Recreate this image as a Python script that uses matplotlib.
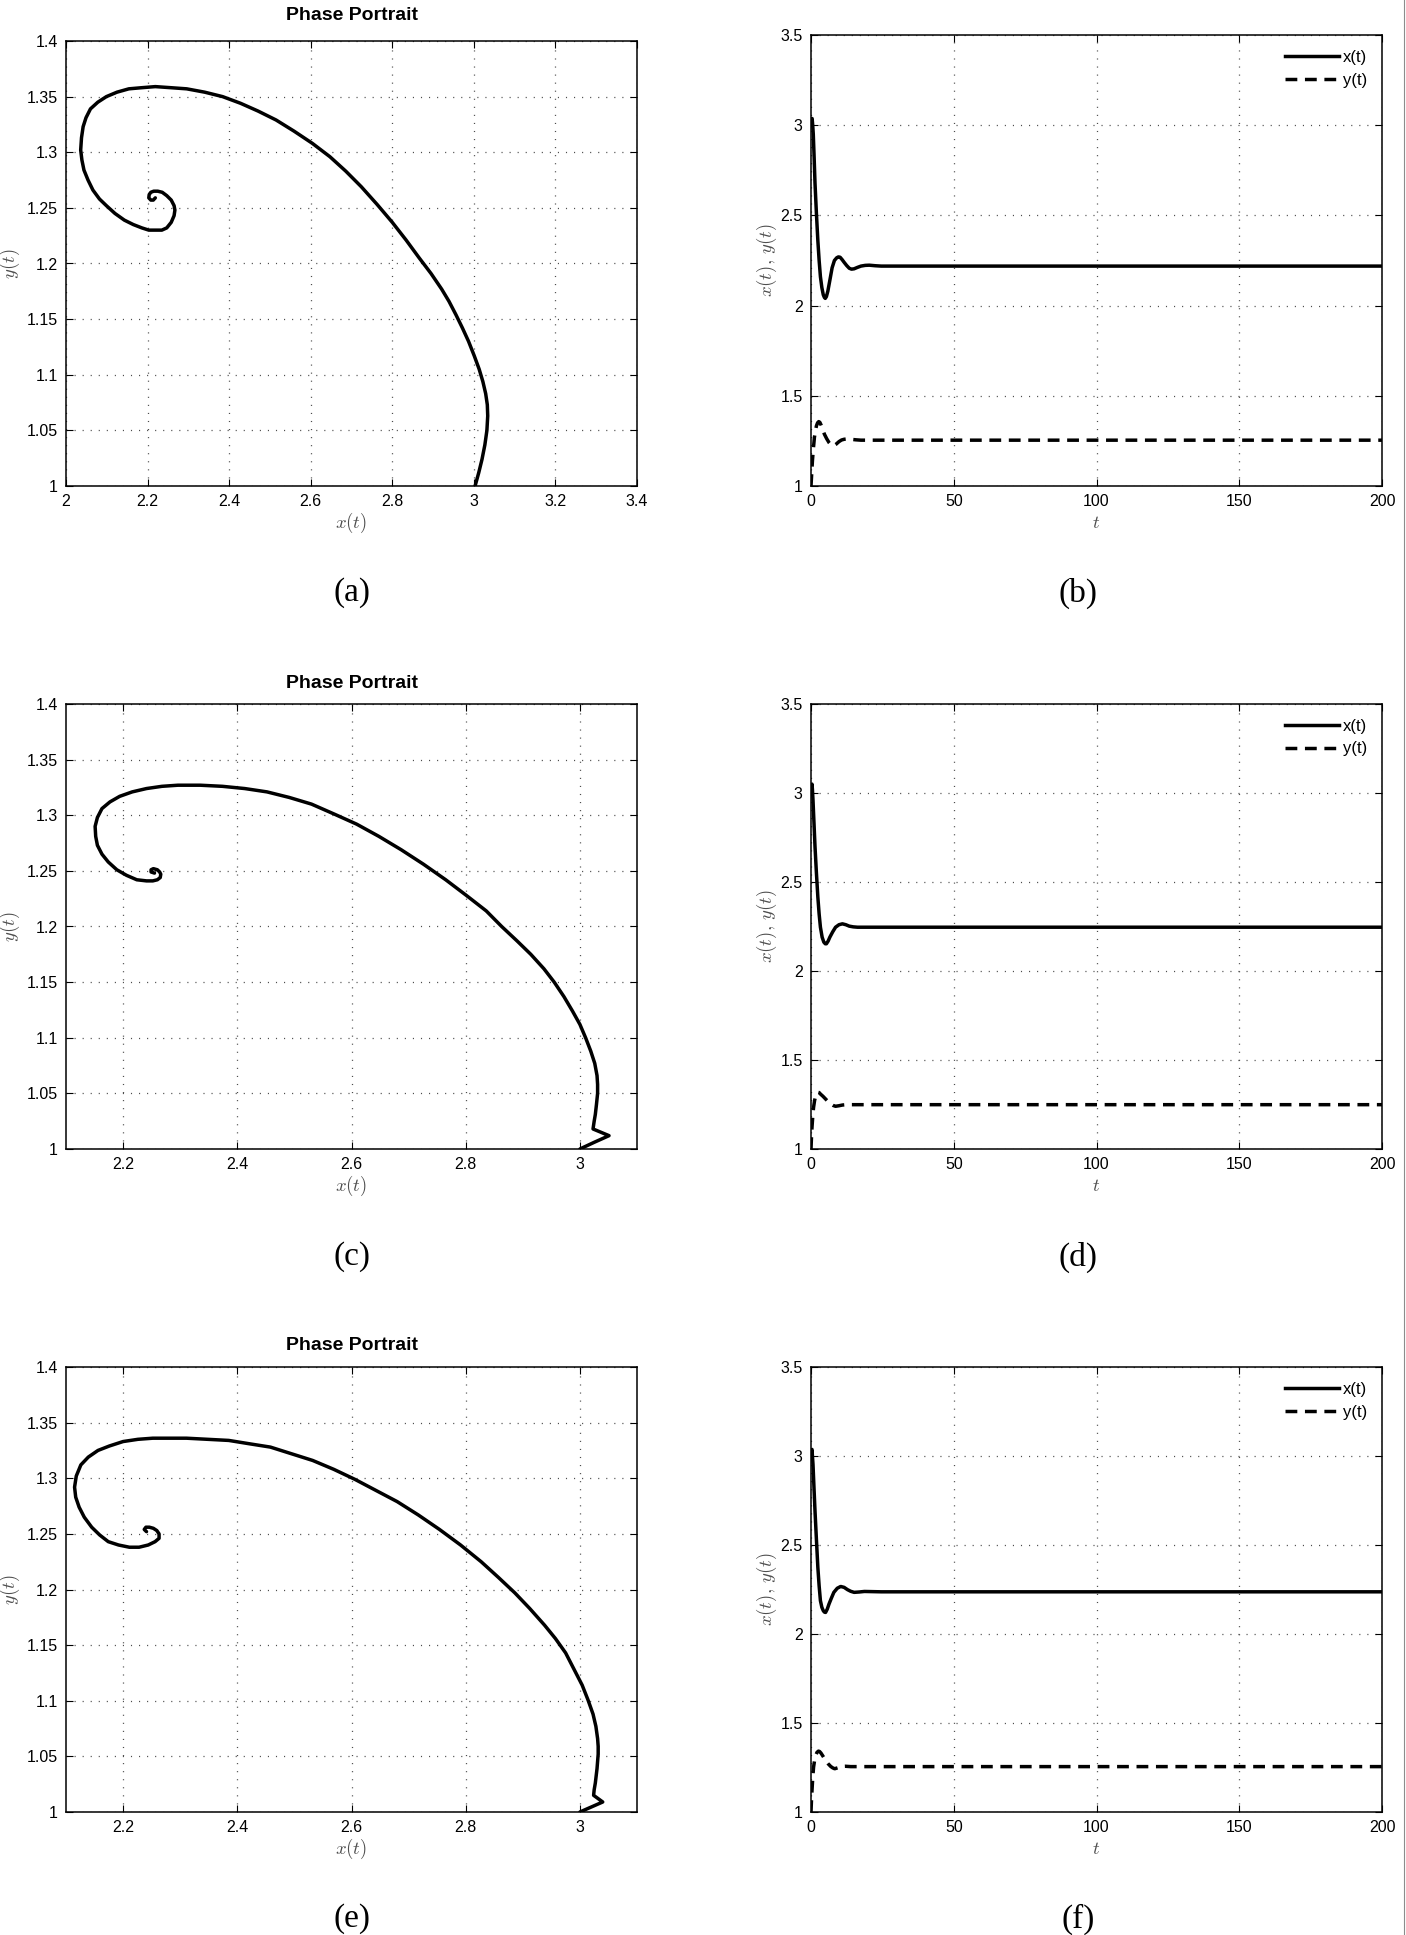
import matplotlib
matplotlib.use("Agg")
import matplotlib.pyplot as plt
from matplotlib.ticker import FormatStrFormatter
from matplotlib.lines import Line2D

# ---- portraits de phase : points ----
pa_x = [3.003, 3.012, 3.020, 3.027, 3.032, 3.034, 3.033, 3.029, 3.022, 3.013,
        3.001, 2.987, 2.972, 2.956, 2.939, 2.921, 2.895, 2.866, 2.834, 2.800,
        2.763, 2.724, 2.686, 2.647, 2.604, 2.559, 2.515, 2.471, 2.428, 2.384,
        2.340, 2.296, 2.258, 2.219, 2.185, 2.154, 2.125, 2.099, 2.078, 2.060,
        2.049, 2.042, 2.038, 2.036, 2.039, 2.044, 2.054, 2.066, 2.082, 2.099,
        2.120, 2.143, 2.165, 2.186, 2.203, 2.219, 2.235, 2.247, 2.258, 2.265,
        2.267, 2.265, 2.258, 2.247, 2.236, 2.225, 2.215, 2.208, 2.204, 2.203,
        2.208, 2.214, 2.219]
pa_y = [1.000, 1.012, 1.024, 1.037, 1.050, 1.063, 1.073, 1.083, 1.094, 1.105,
        1.117, 1.130, 1.142, 1.154, 1.166, 1.177, 1.191, 1.205, 1.221, 1.237,
        1.253, 1.269, 1.283, 1.296, 1.308, 1.319, 1.329, 1.337, 1.344, 1.350,
        1.354, 1.357, 1.358, 1.359, 1.358, 1.357, 1.354, 1.350, 1.345, 1.339,
        1.331, 1.323, 1.313, 1.302, 1.293, 1.284, 1.275, 1.266, 1.258, 1.252,
        1.245, 1.239, 1.235, 1.232, 1.230, 1.230, 1.230, 1.232, 1.237, 1.243,
        1.248, 1.252, 1.257, 1.261, 1.264, 1.265, 1.265, 1.264, 1.262, 1.259,
        1.257, 1.257, 1.259]

pc_x = [3.000, 3.025, 3.051, 3.037, 3.023, 3.025, 3.027, 3.029, 3.031, 3.031,
        3.030, 3.026, 3.019, 3.010, 3.000, 2.987, 2.972, 2.955, 2.937, 2.914,
        2.890, 2.863, 2.836, 2.801, 2.765, 2.726, 2.687, 2.648, 2.609, 2.570,
        2.530, 2.491, 2.452, 2.413, 2.374, 2.335, 2.296, 2.268, 2.241, 2.216,
        2.194, 2.177, 2.163, 2.155, 2.151, 2.152, 2.155, 2.163, 2.174, 2.189,
        2.206, 2.224, 2.241, 2.252, 2.260, 2.265, 2.266, 2.264, 2.260, 2.253,
        2.249, 2.249, 2.255]
pc_y = [1.000, 1.006, 1.012, 1.015, 1.018, 1.025, 1.031, 1.040, 1.050, 1.058,
        1.066, 1.077, 1.088, 1.100, 1.112, 1.124, 1.137, 1.150, 1.162, 1.175,
        1.187, 1.200, 1.214, 1.228, 1.242, 1.256, 1.269, 1.281, 1.292, 1.301,
        1.310, 1.316, 1.321, 1.324, 1.326, 1.327, 1.327, 1.326, 1.324, 1.321,
        1.317, 1.312, 1.306, 1.298, 1.290, 1.281, 1.273, 1.265, 1.258, 1.251,
        1.246, 1.242, 1.241, 1.241, 1.242, 1.244, 1.247, 1.249, 1.251, 1.252,
        1.251, 1.249, 1.248]

pe_x = [3.000, 3.020, 3.040, 3.032, 3.024, 3.025, 3.027, 3.030, 3.032, 3.032,
        3.031, 3.028, 3.023, 3.014, 3.004, 2.990, 2.975, 2.957, 2.938, 2.912,
        2.886, 2.857, 2.827, 2.791, 2.754, 2.717, 2.680, 2.643, 2.606, 2.569,
        2.532, 2.495, 2.458, 2.421, 2.385, 2.348, 2.311, 2.281, 2.252, 2.226,
        2.200, 2.176, 2.156, 2.139, 2.126, 2.118, 2.115, 2.117, 2.123, 2.132,
        2.145, 2.159, 2.174, 2.192, 2.211, 2.228, 2.244, 2.256, 2.263, 2.263,
        2.259, 2.253, 2.246, 2.240, 2.237, 2.241]
pe_y = [1.000, 1.0045, 1.009, 1.012, 1.015, 1.020, 1.026, 1.039, 1.052, 1.059,
        1.066, 1.077, 1.088, 1.101, 1.114, 1.128, 1.143, 1.156, 1.168, 1.183,
        1.197, 1.211, 1.225, 1.240, 1.254, 1.267, 1.279, 1.289, 1.299, 1.308,
        1.316, 1.322, 1.328, 1.331, 1.334, 1.335, 1.336, 1.336, 1.336, 1.335,
        1.333, 1.329, 1.325, 1.319, 1.312, 1.302, 1.292, 1.283, 1.274, 1.265,
        1.256, 1.249, 1.243, 1.240, 1.238, 1.238, 1.240, 1.243, 1.246, 1.250,
        1.253, 1.255, 1.256, 1.256, 1.254, 1.252]

# ---- séries temporelles ----
b_tx = [0, 0.2, 0.4, 0.6, 0.8, 1.1, 1.4, 1.9, 2.4, 2.85, 3.3, 3.8, 4.3, 4.7,
        5.0, 5.4, 5.9, 6.6, 7.4, 8.2, 9.0, 9.6, 10.2, 10.9, 11.6, 12.5, 13.4,
        14.2, 15.1, 16.3, 17.5, 19.0, 20.4, 22.5, 24.6, 50, 100, 150, 200]
b_x = [3.0, 3.03, 3.037, 3.0, 2.95, 2.82, 2.68, 2.51, 2.36, 2.25, 2.16, 2.10,
       2.06, 2.045, 2.04, 2.05, 2.08, 2.14, 2.21, 2.25, 2.265, 2.27, 2.268,
       2.255, 2.24, 2.222, 2.207, 2.202, 2.204, 2.212, 2.219, 2.223, 2.224,
       2.221, 2.219, 2.219, 2.219, 2.219, 2.219]
b_ty = [0, 0.25, 0.5, 0.85, 1.2, 1.55, 1.9, 2.3, 2.7, 3.1, 3.5, 4.1, 4.7, 5.5,
        6.3, 7.0, 7.8, 8.8, 9.8, 10.7, 11.6, 12.7, 13.9, 15.7, 17.5, 50, 100,
        150, 200]
b_y = [1.0, 1.07, 1.14, 1.21, 1.27, 1.305, 1.333, 1.35, 1.357, 1.353, 1.339,
       1.313, 1.287, 1.262, 1.241, 1.228, 1.222, 1.232, 1.246, 1.255, 1.259,
       1.261, 1.259, 1.256, 1.254, 1.254, 1.254, 1.254, 1.254]

d_tx = [0, 0.2, 0.35, 0.5, 0.7, 1.05, 1.4, 1.9, 2.4, 2.85, 3.3, 3.9, 4.5, 5.0,
        5.4, 6.0, 6.6, 7.6, 8.6, 9.8, 11.0, 12.2, 13.4, 14.8, 16.3, 23.4, 50,
        100, 150, 200]
d_x = [3.0, 3.04, 3.05, 3.02, 2.96, 2.83, 2.70, 2.55, 2.415, 2.32, 2.246,
       2.19, 2.162, 2.153, 2.153, 2.168, 2.19, 2.22, 2.246, 2.26, 2.265, 2.26,
       2.252, 2.248, 2.246, 2.246, 2.246, 2.246, 2.246, 2.246]
d_ty = [0, 0.15, 0.35, 0.6, 0.9, 1.25, 1.65, 2.0, 2.4, 2.85, 3.3, 4.2, 5.1,
        6.0, 6.9, 7.7, 8.6, 9.8, 11.0, 12.4, 13.9, 50, 100, 150, 200]
d_y = [1.0, 1.06, 1.122, 1.18, 1.234, 1.272, 1.30, 1.313, 1.319, 1.317, 1.309,
       1.296, 1.281, 1.266, 1.253, 1.245, 1.240, 1.243, 1.247, 1.249, 1.249,
       1.249, 1.249, 1.249, 1.249]

f_tx = [0, 0.2, 0.35, 0.5, 0.7, 1.05, 1.4, 1.9, 2.4, 2.85, 3.3, 3.8, 4.3, 4.7,
        5.1, 5.7, 6.3, 7.1, 8.0, 9.2, 10.4, 11.6, 12.8, 13.9, 15.1, 16.9, 18.7,
        24.6, 50, 100, 150, 200]
f_x = [3.0, 3.03, 3.037, 3.0, 2.953, 2.82, 2.692, 2.53, 2.374, 2.27, 2.187,
       2.15, 2.131, 2.123, 2.121, 2.14, 2.168, 2.20, 2.234, 2.257, 2.267, 2.262,
       2.249, 2.24, 2.234, 2.236, 2.239, 2.237, 2.237, 2.237, 2.237, 2.237]
f_ty = [0, 0.15, 0.35, 0.6, 0.9, 1.25, 1.65, 2.1, 2.6, 3.0, 3.5, 4.3, 5.1, 6.0,
        6.9, 7.6, 8.3, 9.3, 10.4, 12.0, 13.9, 50, 100, 150, 200]
f_y = [1.0, 1.06, 1.121, 1.19, 1.252, 1.29, 1.318, 1.335, 1.342, 1.34, 1.331,
       1.311, 1.29, 1.271, 1.256, 1.248, 1.243, 1.248, 1.256, 1.257, 1.255,
       1.255, 1.255, 1.255, 1.255]

# ---- graduations ----
phase_yticks = [1, 1.05, 1.1, 1.15, 1.2, 1.25, 1.3, 1.35, 1.4]
phase_a_xticks = [2, 2.2, 2.4, 2.6, 2.8, 3, 3.2, 3.4]
phase_ce_xticks = [2.2, 2.4, 2.6, 2.8, 3]
time_xticks = [0, 50, 100, 150, 200]
time_yticks = [1, 1.5, 2, 2.5, 3, 3.5]
captions = ["(a)", "(b)", "(c)", "(d)", "(e)", "(f)"]

plt.rcParams['font.family'] = ['Liberation Sans', 'DejaVu Sans']
plt.rcParams['mathtext.fontset'] = 'cm'
plt.rcParams['lines.scale_dashes'] = False

W, H = 1406, 1935
fig = plt.figure(figsize=(W / 100, H / 100), dpi=100)


def boite(gauche, haut, droite, bas):
    # rectangle en pixels -> coordonnées figure
    return [gauche / W, 1 - bas / H, (droite - gauche) / W, (bas - haut) / H]


def habillage(ax, ylab_x):
    ax.set_axisbelow(True)
    ax.grid(True, linestyle=(0, (0.8, 5)), color='0.3', linewidth=0.9)
    ax.tick_params(direction='in', top=True, right=True, length=5,
                   width=0.8, labelsize=11.5, pad=6)
    for s in ax.spines.values():
        s.set_linewidth(1.1)
    ax.xaxis.set_major_formatter(FormatStrFormatter('%g'))
    ax.yaxis.set_major_formatter(FormatStrFormatter('%g'))
    ax.xaxis.set_label_coords(0.5, -37 / 445)
    ax.yaxis.set_label_coords(ylab_x, 0.5)


def phase(rect, xs, ys, xlim, xticks, titre_dy):
    ax = fig.add_axes(rect)
    ax.plot(xs, ys, color='k', lw=2.5, solid_joinstyle='round',
            solid_capstyle='round')
    ax.set_xlim(xlim)
    ax.set_ylim(1, 1.4)
    ax.set_xticks(xticks)
    ax.set_yticks(phase_yticks)
    habillage(ax, -0.098)
    ax.set_xlabel(r'$x(t)$', fontsize=13.5, color='0.3', va='center')
    ax.set_ylabel(r'$y(t)$', fontsize=13.5, color='0.3', va='center')
    ax.text(0.5, 1 + titre_dy / 445, 'Phase Portrait', transform=ax.transAxes,
            ha='center', va='center', fontsize=14, fontweight='bold')
    return ax


def temps(rect, tx, xv, ty, yv):
    ax = fig.add_axes(rect)
    ax.plot(tx, xv, color='k', lw=2.5, label='x(t)',
            solid_joinstyle='round')
    ax.plot(ty, yv, color='k', lw=2.5, dashes=(8.5, 5.5), label='y(t)')
    ax.set_xlim(0, 200)
    ax.set_ylim(1, 3.5)
    ax.set_xticks(time_xticks)
    ax.set_yticks(time_yticks)
    habillage(ax, -0.077)
    ax.set_xlabel(r'$t$', fontsize=13.5, color='0.3', va='center')
    ax.set_ylabel(r'$x(t),\,y(t)$', fontsize=13.5, color='0.3', va='center')
    ax.legend(loc='upper right', frameon=False, fontsize=12,
              handlelength=3.2, handletextpad=0.25, labelspacing=0.45,
              borderaxespad=0.5)
    return ax


phase(boite(66, 41, 637, 486), pa_x, pa_y, (2, 3.4), phase_a_xticks, 26)
temps(boite(811, 35, 1382, 486), b_tx, b_x, b_ty, b_y)
phase(boite(66, 704, 637, 1149), pc_x, pc_y, (2.1, 3.1), phase_ce_xticks, 21)
temps(boite(811, 704, 1382, 1149), d_tx, d_x, d_ty, d_y)
phase(boite(66, 1367, 637, 1812), pe_x, pe_y, (2.1, 3.1), phase_ce_xticks, 22)
temps(boite(811, 1367, 1382, 1812), f_tx, f_x, f_ty, f_y)

# légendes (a)...(f) sous chaque panneau
pos_x = [352, 1078]
pos_y = [593, 1257, 1919]
for i, lab in enumerate(captions):
    fig.text(pos_x[i % 2] / W, 1 - pos_y[i // 2] / H, lab,
             family=['Liberation Serif', 'DejaVu Serif'], fontsize=24,
             ha='center', va='center')

# fin trait vertical au bord droit
fig.add_artist(Line2D([1404 / W, 1404 / W], [0, 1], transform=fig.transFigure,
                      color='0.55', lw=0.8))

fig.savefig("out.png", dpi=100)
